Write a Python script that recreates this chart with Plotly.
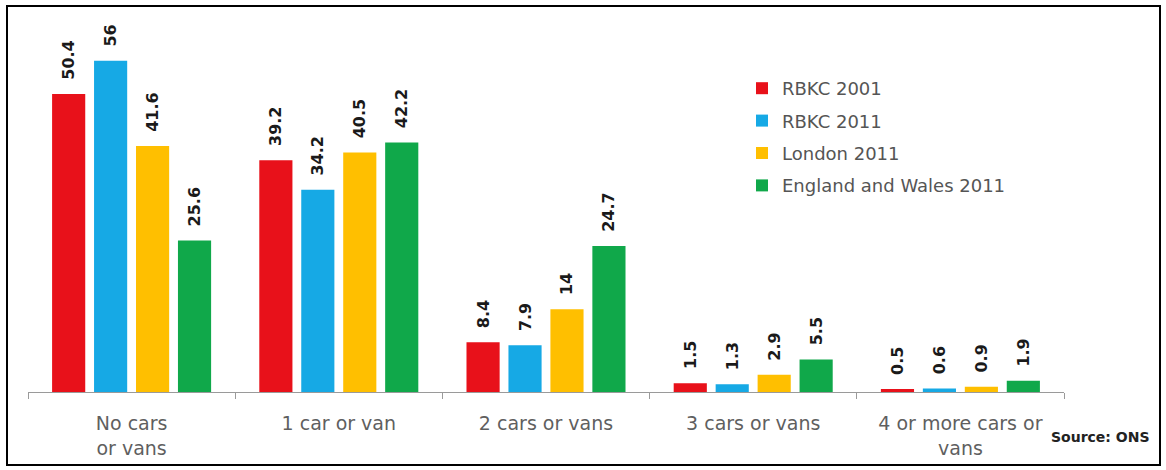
import plotly.graph_objects as go

categories = ["No cars<br>or vans", "1 car or van", "2 cars or vans", "3 cars or vans", "4 or more cars or<br>vans"]
series_names = ["RBKC 2001", "RBKC 2011", "London 2011", "England and Wales 2011"]
rbkc_2001 = [50.4, 39.2, 8.4, 1.5, 0.5]
rbkc_2011 = [56, 34.2, 7.9, 1.3, 0.6]
london_2011 = [41.6, 40.5, 14, 2.9, 0.9]
england_wales_2011 = [25.6, 42.2, 24.7, 5.5, 1.9]
series_values = [rbkc_2001, rbkc_2011, london_2011, england_wales_2011]
colors = ["#E8111A", "#16A9E5", "#FFBF00", "#10A84A"]

W, H = 1166, 470
L, R, T, B = 28, 102, 30, 78
pw, ph = W - L - R, H - T - B

def px_x(x):
    return (x - L) / pw

def px_y(y):
    return (H - B - y) / ph

fig = go.Figure()
for name, vals, col in zip(series_names, series_values, colors):
    fig.add_trace(go.Bar(
        x=categories, y=vals, name=name, legendgroup=name,
        marker=dict(color=col, line=dict(width=0)),
        text=[("\u00a0\u00a0" + f"{v:g}") for v in vals],
        textposition="outside", textangle=-90, constraintext="none",
        textfont=dict(family="DejaVu Sans", size=16, color="#1a1a1a", weight="bold"),
        cliponaxis=False,
    ))

fig.update_layout(
    width=W, height=H,
    margin=dict(l=L, r=R, t=T, b=B),
    barmode="group", bargap=0.19, bargroupgap=0.21,
    plot_bgcolor="white", paper_bgcolor="white",
    font=dict(family="DejaVu Sans", color="#595959"),
    showlegend=True,
    legend=dict(x=px_x(742), y=px_y(70), xanchor="left", yanchor="top",
                font=dict(family="DejaVu Sans", size=18, color="#555555"),
                tracegroupgap=6, bgcolor="rgba(0,0,0,0)", itemwidth=30),
    xaxis=dict(showline=True, linecolor="#9a9a9a", linewidth=1,
               ticks="outside", tickson="boundaries", ticklen=6, tickcolor="#9a9a9a",
               ticklabelstandoff=14,
               tickfont=dict(family="DejaVu Sans", size=19, color="#5f5f5f"),
               showgrid=False, fixedrange=True),
    yaxis=dict(range=[0, 61.2], visible=False, showgrid=False, fixedrange=True),
    shapes=[dict(type="rect", xref="paper", yref="paper",
                 x0=px_x(7), x1=px_x(1160), y0=px_y(465), y1=px_y(6),
                 line=dict(color="black", width=2), fillcolor="rgba(0,0,0,0)", layer="above")],
    annotations=[dict(text="<b>Source: ONS</b>", xref="paper", yref="paper",
                      x=px_x(1152), y=px_y(437), xanchor="right", yanchor="middle",
                      showarrow=False,
                      font=dict(family="DejaVu Sans", size=14, color="#222222"))],
)

fig.write_html("out.html", config={"displayModeBar": False},
               post_script="document.body.style.margin='0';document.body.style.overflow='hidden';")
